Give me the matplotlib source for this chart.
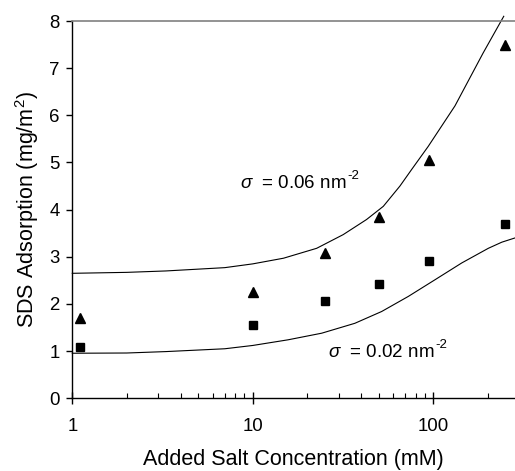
import matplotlib
matplotlib.use("Agg")
import matplotlib.pyplot as plt
from matplotlib.transforms import IdentityTransform
from matplotlib.ticker import LogLocator, FixedLocator, FixedFormatter, NullFormatter

plt.rcParams['font.family'] = ['Liberation Sans', 'DejaVu Sans']
plt.rcParams['mathtext.fontset'] = 'custom'
plt.rcParams['mathtext.rm'] = 'Liberation Sans'
plt.rcParams['mathtext.it'] = 'Liberation Sans:italic'

# Data
salt_conc = [1.1, 10, 25, 50, 95, 250]
ads_triangle = [1.70, 2.25, 3.09, 3.84, 5.05, 7.49]
ads_square = [1.08, 1.56, 2.07, 2.42, 2.92, 3.69]

upper_x = [1, 2, 3.3, 7, 10, 14.8, 22.6, 31.7, 42.7, 52.9, 65.4, 75.9, 93.8, 132, 189, 246]
upper_y = [2.65, 2.67, 2.70, 2.77, 2.85, 2.97, 3.18, 3.47, 3.79, 4.07, 4.50, 4.85, 5.34, 6.20, 7.32, 8.10]

lower_x = [1, 2, 3.3, 7, 10, 15.7, 24.1, 36.8, 51.8, 72.8, 102, 144, 202, 240, 284]
lower_y = [0.955, 0.96, 0.99, 1.05, 1.12, 1.24, 1.38, 1.59, 1.84, 2.16, 2.51, 2.87, 3.18, 3.31, 3.40]

x_ticks = [1, 10, 100]
x_ticklabels = ['1', '10', '100']
y_ticks = [0, 1, 2, 3, 4, 5, 6, 7, 8]

fig = plt.figure(figsize=(5.15, 4.71), dpi=100)
ax = fig.add_axes([0.1404, 0.1544, 0.8596, 0.801])

ax.plot(upper_x, upper_y, color='black', lw=0.8, clip_on=False)
ax.plot(lower_x, lower_y, color='black', lw=0.8, clip_on=False)
ax.plot(salt_conc, ads_triangle, linestyle='none', marker='^', ms=6.5, color='black', clip_on=False)
ax.plot(salt_conc, ads_square, linestyle='none', marker='s', ms=6, color='black', clip_on=False)

ax.set_xscale('log')
ax.set_xlim(1, 284)
ax.set_ylim(0, 8)

ax.xaxis.set_major_locator(FixedLocator(x_ticks))
ax.xaxis.set_major_formatter(FixedFormatter(x_ticklabels))
ax.xaxis.set_minor_locator(LogLocator(base=10, subs=range(2, 10), numticks=20))
ax.xaxis.set_minor_formatter(NullFormatter())
ax.set_yticks(y_ticks)

ax.tick_params(axis='x', which='major', direction='inout', length=8, width=1, labelsize=13.4, pad=10)
ax.tick_params(axis='x', which='minor', direction='in', length=3.5, width=0.8)
ax.tick_params(axis='y', which='major', direction='out', length=4, width=1, labelsize=13.4, pad=5)

ax.spines['right'].set_visible(False)
ax.spines['top'].set_color('#808080')
ax.spines['top'].set_linewidth(1.2)
for s in ['left', 'bottom']:
    ax.spines[s].set_color('black')
    ax.spines[s].set_linewidth(1)

ax.set_xlabel('Added Salt Concentration (mM)', fontsize=15.5, labelpad=10)
ax.set_ylabel('SDS Adsorption (mg/m$^2$)', fontsize=15.5, labelpad=6)

labels = []
for xv, yv, lab in [(8.5, 4.46, '0.06'), (26.2, 0.87, '0.02')]:
    t = ax.text(xv, yv, r'$\sigma$  = ' + lab + ' nm', fontsize=13.5, ha='left', va='baseline')
    labels.append((t, xv, yv))

fig.canvas.draw()
renderer = fig.canvas.get_renderer()
for t, xv, yv in labels:
    bb = t.get_window_extent(renderer)
    base_y = ax.transData.transform((xv, yv))[1]
    fig.text(bb.x1 + 1, base_y + 9.0, '-2', transform=IdentityTransform(),
             fontsize=9.5, ha='left', va='baseline')

fig.savefig('out.png', dpi=100)
